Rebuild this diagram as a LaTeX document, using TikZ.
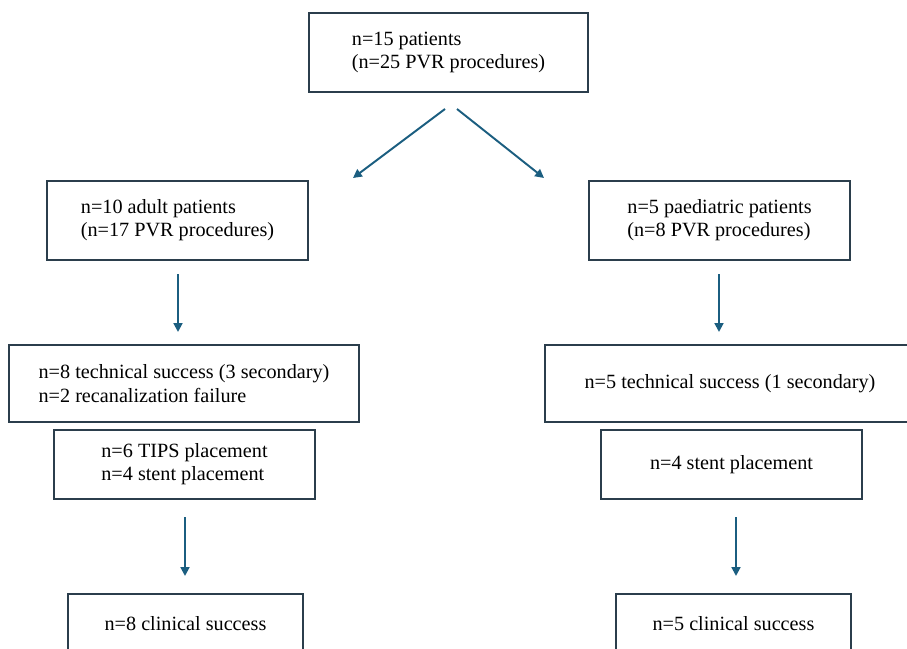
\documentclass[tikz,border=0pt]{standalone}
\usepackage{fontspec}
\setmainfont{Liberation Serif}
\usetikzlibrary{arrows.meta}
\definecolor{boxline}{HTML}{2B3E4C}
\definecolor{arrowblue}{HTML}{1B5E80}
\begin{document}
\begin{tikzpicture}[
 x=0.02cm,y=-0.02cm,
 every node/.style={font=\fontsize{11.5}{13.2}\selectfont},
 box/.style={draw=boxline,line width=0.8pt,align=left,inner sep=0pt},
 arr/.style={draw=arrowblue,line width=1.1pt,-{Triangle[length=5pt,width=5pt]}}
]
 \useasboundingbox (0,0) rectangle (907,649);
 \clip (0,0) rectangle (907,649);

 % top box and the two groups
 \node[box,minimum width=5.58cm,minimum height=1.58cm] (all) at (448.5,52.5)
  {n=15 patients\\(n=25 PVR procedures)};
 \node[box,minimum width=5.22cm,minimum height=1.58cm] (adult) at (177.5,220.5)
  {n=10 adult patients\\(n=17 PVR procedures)};
 \node[box,minimum width=5.22cm,minimum height=1.58cm] (paed) at (719.5,220.5)
  {n=5 paediatric patients\\(n=8 PVR procedures)};

 % technical outcome
 \node[box,minimum width=7.00cm,minimum height=1.54cm] (techA) at (184,383.5)
  {n=8 technical success (3 secondary)\\n=2 recanalization failure};
 \node[box,minimum width=7.40cm,minimum height=1.54cm] (techP) at (730,383.5)
  {n=5 technical success (1 secondary)};
 \node[box,minimum width=5.22cm,minimum height=1.38cm] (placeA) at (184.5,464.5)
  {n=6 TIPS placement\\n=4 stent placement};
 \node[box,minimum width=5.22cm,minimum height=1.38cm] (placeP) at (731.5,464.5)
  {n=4 stent placement};

 % clinical outcome, cut at the bottom edge
 \node[box,minimum width=4.70cm,minimum height=1.20cm] (clinA) at (185.5,624)
  {n=8 clinical success};
 \node[box,minimum width=4.70cm,minimum height=1.20cm] (clinP) at (733.5,624)
  {n=5 clinical success};

 % arrow ends
 \coordinate (s1) at (445,109); \coordinate (e1) at (353,178);
 \coordinate (s2) at (457,109); \coordinate (e2) at (544,178);
 \coordinate (s3) at (178,274); \coordinate (e3) at (178,332);
 \coordinate (s4) at (719,274); \coordinate (e4) at (719,332);
 \coordinate (s5) at (185,517); \coordinate (e5) at (185,576);
 \coordinate (s6) at (736,517); \coordinate (e6) at (736,576);

 \draw[arr] (s1) -- (e1);
 \draw[arr] (s2) -- (e2);
 \draw[arr] (s3) -- (e3);
 \draw[arr] (s4) -- (e4);
 \draw[arr] (s5) -- (e5);
 \draw[arr] (s6) -- (e6);
\end{tikzpicture}
\end{document}
